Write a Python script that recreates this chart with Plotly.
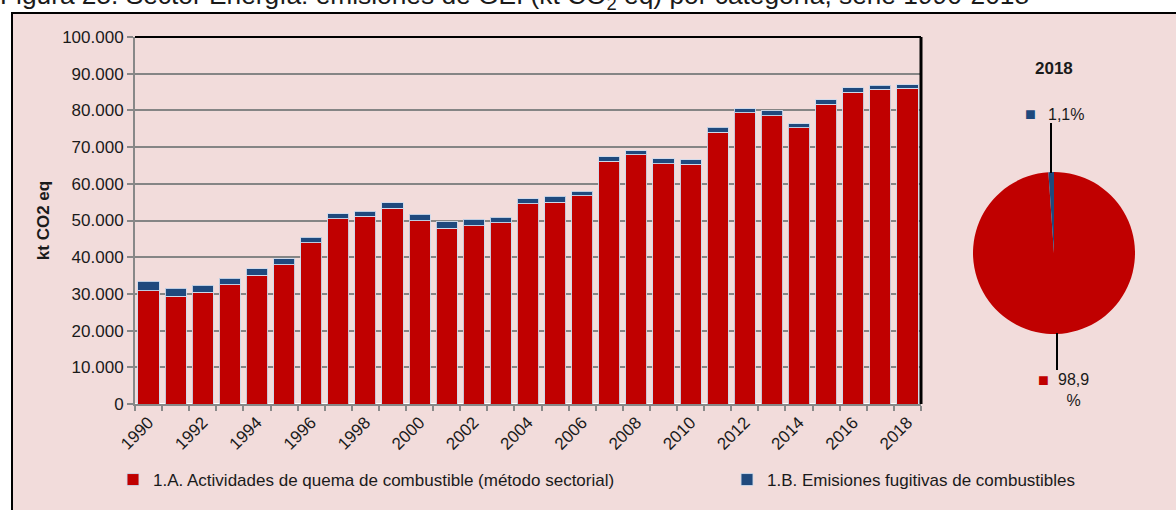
import plotly.graph_objects as go

# Sector Energía, kt CO2 eq por categoría (1990-2018)
years = list(range(1990, 2019))
combustion = [30900, 29400, 30400, 32500, 35100, 38000, 44000, 50500, 51100, 53300,
              50000, 47900, 48600, 49400, 54500, 55000, 56700, 66200, 67900, 65400,
              65300, 74000, 79300, 78600, 75300, 81700, 85000, 85800, 86000]
fugitive = [2600, 2200, 1900, 1800, 1700, 1600, 1500, 1400, 1400, 1500,
            1700, 1700, 1700, 1500, 1400, 1600, 1300, 1200, 1100, 1400,
            1300, 1400, 1100, 1300, 1100, 1200, 1200, 1100, 960]
series_names = ["1.A. Actividades de quema de combustible (método sectorial)",
                "1.B. Emisiones fugitivas de combustibles"]
pie_year = 2018

RED = "#C00000"
BLUE = "#1F497D"
PINK = "#F2DCDB"
FONT = "Liberation Sans"

W, H = 1176, 510
L, R, T, B = 135, 40, 37, 106
PW = W - L - R
PH = H - T - B


def px(x):
    return (x - L) / PW


def py(y):
    return (H - B - y) / PH


def note(text, x, y, size=16, **kw):
    # paper annotation placed by pixel position, anchored on its centre
    d = dict(text=text, xref="paper", yref="paper", x=px(x), y=py(y), showarrow=False,
             xanchor="center", yanchor="middle", font=dict(size=size, color="#1a1a1a"))
    d.update(kw)
    return d


cats = [str(y) for y in years]
ticktext = [str(y) if y % 2 == 0 else "" for y in years]
bar_line = dict(color="rgba(205,218,236,0.9)", width=1)

fig = go.Figure()
fig.add_trace(go.Bar(x=cats, y=combustion, name=series_names[0], marker_color=RED,
                     marker_line=bar_line, legend="legend"))
fig.add_trace(go.Bar(x=cats, y=fugitive, name=series_names[1], marker_color=BLUE,
                     marker_line=bar_line, legend="legend2"))

# pie for last year
i = years.index(pie_year)
pie_vals = [combustion[i], fugitive[i]]
fig.add_trace(go.Pie(values=pie_vals, labels=series_names, sort=False, direction="clockwise",
                     rotation=0, marker=dict(colors=[RED, BLUE]), textinfo="none",
                     hoverinfo="label+percent", showlegend=False,
                     domain=dict(x=[px(973), px(1135)], y=[py(334), py(172)])))

tot = sum(pie_vals)
pct = [f"{100 * v / tot:.1f}".replace(".", ",") for v in pie_vals]

legend_style = dict(orientation="h", xanchor="left", y=py(480), yanchor="middle",
                    bgcolor="rgba(0,0,0,0)", font=dict(size=17))

fig.update_layout(
    width=W, height=H,
    margin=dict(l=L, r=R, t=T, b=B),
    paper_bgcolor="white",
    plot_bgcolor="white",
    barmode="stack",
    bargap=0.22,
    separators=",.",
    font=dict(family=FONT, size=17, color="#1a1a1a"),
    xaxis=dict(domain=[0, px(921)], type="category", tickvals=cats, ticktext=ticktext,
               tickangle=-45, tickson="boundaries", ticks="outside", ticklen=5,
               tickcolor="#888888", tickwidth=2, showline=True, linecolor="#888888",
               linewidth=2, showgrid=False, tickfont=dict(size=17)),
    yaxis=dict(range=[0, 100000], dtick=10000, tickformat=",.0f", ticks="outside",
               ticklen=6, tickcolor="#888888", tickwidth=2, showline=True,
               linecolor="#888888", linewidth=2, gridcolor="#858585", gridwidth=1.6,
               tickfont=dict(size=17),
               title=dict(text="<b>kt CO2 eq</b>", font=dict(size=17), standoff=8)),
    legend=dict(x=px(113), **legend_style),
    legend2=dict(x=px(727), **legend_style),
    shapes=[
        # outer box
        dict(type="rect", xref="paper", yref="paper", x0=px(12), x1=px(1182), y0=py(520), y1=py(13),
             fillcolor=PINK, line=dict(color="black", width=2), layer="below"),
        # top and right border of plot area
        dict(type="line", xref="x domain", yref="y domain", x0=0, x1=1, y0=1, y1=1,
             line=dict(color="black", width=2)),
        dict(type="line", xref="x domain", yref="y domain", x0=1, x1=1, y0=0, y1=1,
             line=dict(color="black", width=3)),
        # pie leader lines
        dict(type="line", xref="paper", yref="paper", x0=px(1051), x1=px(1051), y0=py(123), y1=py(173),
             line=dict(color="black", width=2)),
        dict(type="line", xref="paper", yref="paper", x0=px(1057), x1=px(1057), y0=py(333), y1=py(370),
             line=dict(color="black", width=2)),
    ],
    annotations=[
        note("Figura 25. Sector Energía: emisiones de GEI (kt CO<sub>2</sub> eq) por categoría, serie 1990-2018",
             -2, -3, size=26.3, xanchor="left"),
        note(f"<b>{pie_year}</b>", 1054, 68, size=17),
        note(f"<span style='color:{BLUE}'>■</span>", 1030, 114, size=18),
        note(f"{pct[1]}%", 1046, 114, xanchor="left"),
        note(f"<span style='color:{RED}'>■</span>", 1043, 380, size=18),
        note(f"{pct[0]}<br>%", 1073, 390, align="center"),
    ],
)

# page body has a default 8px margin; drop it so the figure sits at the window corner
fig.write_html("out.html", config={"displayModeBar": False},
               post_script="document.body.style.margin='0';")
